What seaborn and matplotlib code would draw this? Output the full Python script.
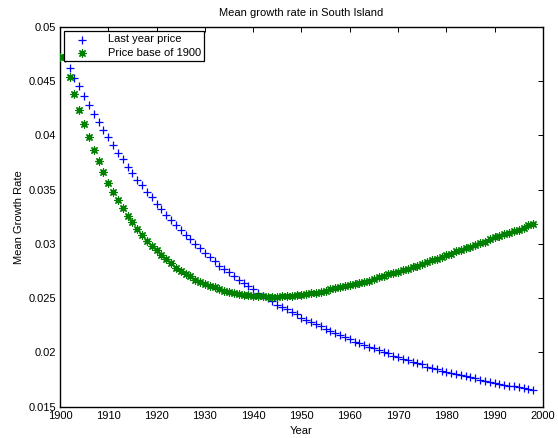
import matplotlib
matplotlib.use("Agg")
import matplotlib.pyplot as plt
import seaborn as sns
import pandas as pd

# ---- data ------------------------------------------------------------------
YEARS = list(range(1900, 1999))

LAST_YEAR_PRICE = [
    0.0472, 0.0471, 0.0462, 0.0453, 0.0445, 0.0436, 0.0428, 0.0420, 0.0412, 0.0405,
    0.0398, 0.0391, 0.0384, 0.0378, 0.0371, 0.0365, 0.0359, 0.0354, 0.0348, 0.0343,
    0.0337, 0.0332, 0.0327, 0.0322, 0.0317, 0.0313, 0.0308, 0.0304, 0.0300, 0.0296,
    0.0292, 0.0288, 0.0284, 0.0280, 0.0277, 0.0274, 0.0270, 0.0267, 0.0264, 0.0261,
    0.0258, 0.0255, 0.0252, 0.0250, 0.0247, 0.0244, 0.0242, 0.0240, 0.0237, 0.0235,
    0.0232, 0.0230, 0.0228, 0.0226, 0.0224, 0.0222, 0.0220, 0.0218, 0.0216, 0.0214,
    0.0212, 0.0210, 0.0209, 0.0207, 0.0205, 0.0204, 0.0202, 0.0200, 0.0199, 0.0197,
    0.0196, 0.0194, 0.0193, 0.0191, 0.0190, 0.0189, 0.0187, 0.0186, 0.0185, 0.0183,
    0.0182, 0.0181, 0.0180, 0.0179, 0.0178, 0.0177, 0.0176, 0.0175, 0.0174, 0.0173,
    0.0172, 0.0171, 0.0170, 0.0169, 0.0169, 0.0168, 0.0167, 0.0166, 0.0165,
]

PRICE_BASE_1900 = [
    0.0472, 0.0472, 0.0454, 0.0438, 0.0423, 0.0410, 0.0398, 0.0386, 0.0376, 0.0366,
    0.0356, 0.0348, 0.0340, 0.0333, 0.0326, 0.0320, 0.0314, 0.0308, 0.0303, 0.0298,
    0.0294, 0.0290, 0.0286, 0.0282, 0.0278, 0.0275, 0.0272, 0.0270, 0.0267, 0.0265,
    0.0263, 0.0261, 0.0260, 0.0258, 0.0257, 0.0256, 0.0255, 0.0254, 0.0253, 0.0253,
    0.0252, 0.0252, 0.0252, 0.0251, 0.0251, 0.0251, 0.0252, 0.0252, 0.0252, 0.0253,
    0.0253, 0.0254, 0.0255, 0.0255, 0.0256, 0.0257, 0.0258, 0.0259, 0.0260, 0.0261,
    0.0262, 0.0263, 0.0264, 0.0265, 0.0266, 0.0268, 0.0269, 0.0270, 0.0272, 0.0273,
    0.0274, 0.0276, 0.0277, 0.0279, 0.0280, 0.0281, 0.0283, 0.0285, 0.0286, 0.0288,
    0.0290, 0.0291, 0.0293, 0.0294, 0.0296, 0.0297, 0.0299, 0.0301, 0.0302, 0.0304,
    0.0306, 0.0307, 0.0309, 0.0310, 0.0312, 0.0313, 0.0315, 0.0317, 0.0318,
]

X_TICKS = [1900, 1910, 1920, 1930, 1940, 1950, 1960, 1970, 1980, 1990, 2000]
Y_TICKS = [0.015, 0.02, 0.025, 0.03, 0.035, 0.04, 0.045, 0.05]
Y_TICK_LABELS = ["0.015", "0.02", "0.025", "0.03", "0.035", "0.04", "0.045", "0.05"]

BLUE = "#0000ff"
GREEN = "#008000"
ASTERISK = (8, 2, 0)   # matlab-style '*': plus and cross combined


def main() -> None:
    sns.set_style("white")
    plt.rcParams.update({
        "font.family": ["Liberation Sans", "DejaVu Sans"],
        "font.size": 8,
        "axes.linewidth": 1.0,
        "axes.edgecolor": "black",
        "xtick.color": "black", "ytick.color": "black",
        "text.color": "black", "axes.labelcolor": "black",
    })

    df = pd.DataFrame({"year": YEARS, "last": LAST_YEAR_PRICE, "base": PRICE_BASE_1900})

    fig = plt.figure(figsize=(5.58, 4.38), dpi=100)
    ax = fig.add_axes([0.1075, 0.0715, 0.8655, 0.8675])

    sns.scatterplot(data=df, x="year", y="last", marker="+", color=BLUE, s=30,
                    linewidth=0.9, label="Last year price", ax=ax, zorder=3)
    sns.scatterplot(data=df, x="year", y="base", marker=ASTERISK, color=GREEN,
                    edgecolor=GREEN, s=28, linewidth=0.9, label="Price base of 1900",
                    ax=ax, zorder=4)

    ax.set_xlim(1900, 2000)
    ax.set_ylim(0.015, 0.05)
    ax.set_xticks(X_TICKS)
    ax.set_yticks(Y_TICKS)
    ax.set_yticklabels(Y_TICK_LABELS)
    ax.tick_params(direction="in", top=True, right=True, length=3.5, width=0.7,
                   labelsize=8, pad=3)
    for sp in ax.spines.values():
        sp.set_visible(True)

    ax.set_title("Mean growth rate in South Island", fontsize=8, pad=8)
    ax.set_xlabel("Year", fontsize=8, labelpad=4)
    ax.set_ylabel("Mean Growth Rate", fontsize=8, labelpad=3)

    leg = ax.legend(loc="upper left", fontsize=8, fancybox=False, frameon=True,
                    edgecolor="black", framealpha=1, borderaxespad=0.4,
                    handlelength=2.6, handletextpad=1.0, labelspacing=0.3,
                    borderpad=0.3)
    leg.get_frame().set_linewidth(0.9)
    leg.set_zorder(10)

    fig.savefig("out.png", dpi=100)
    plt.close(fig)


if __name__ == "__main__":
    main()
